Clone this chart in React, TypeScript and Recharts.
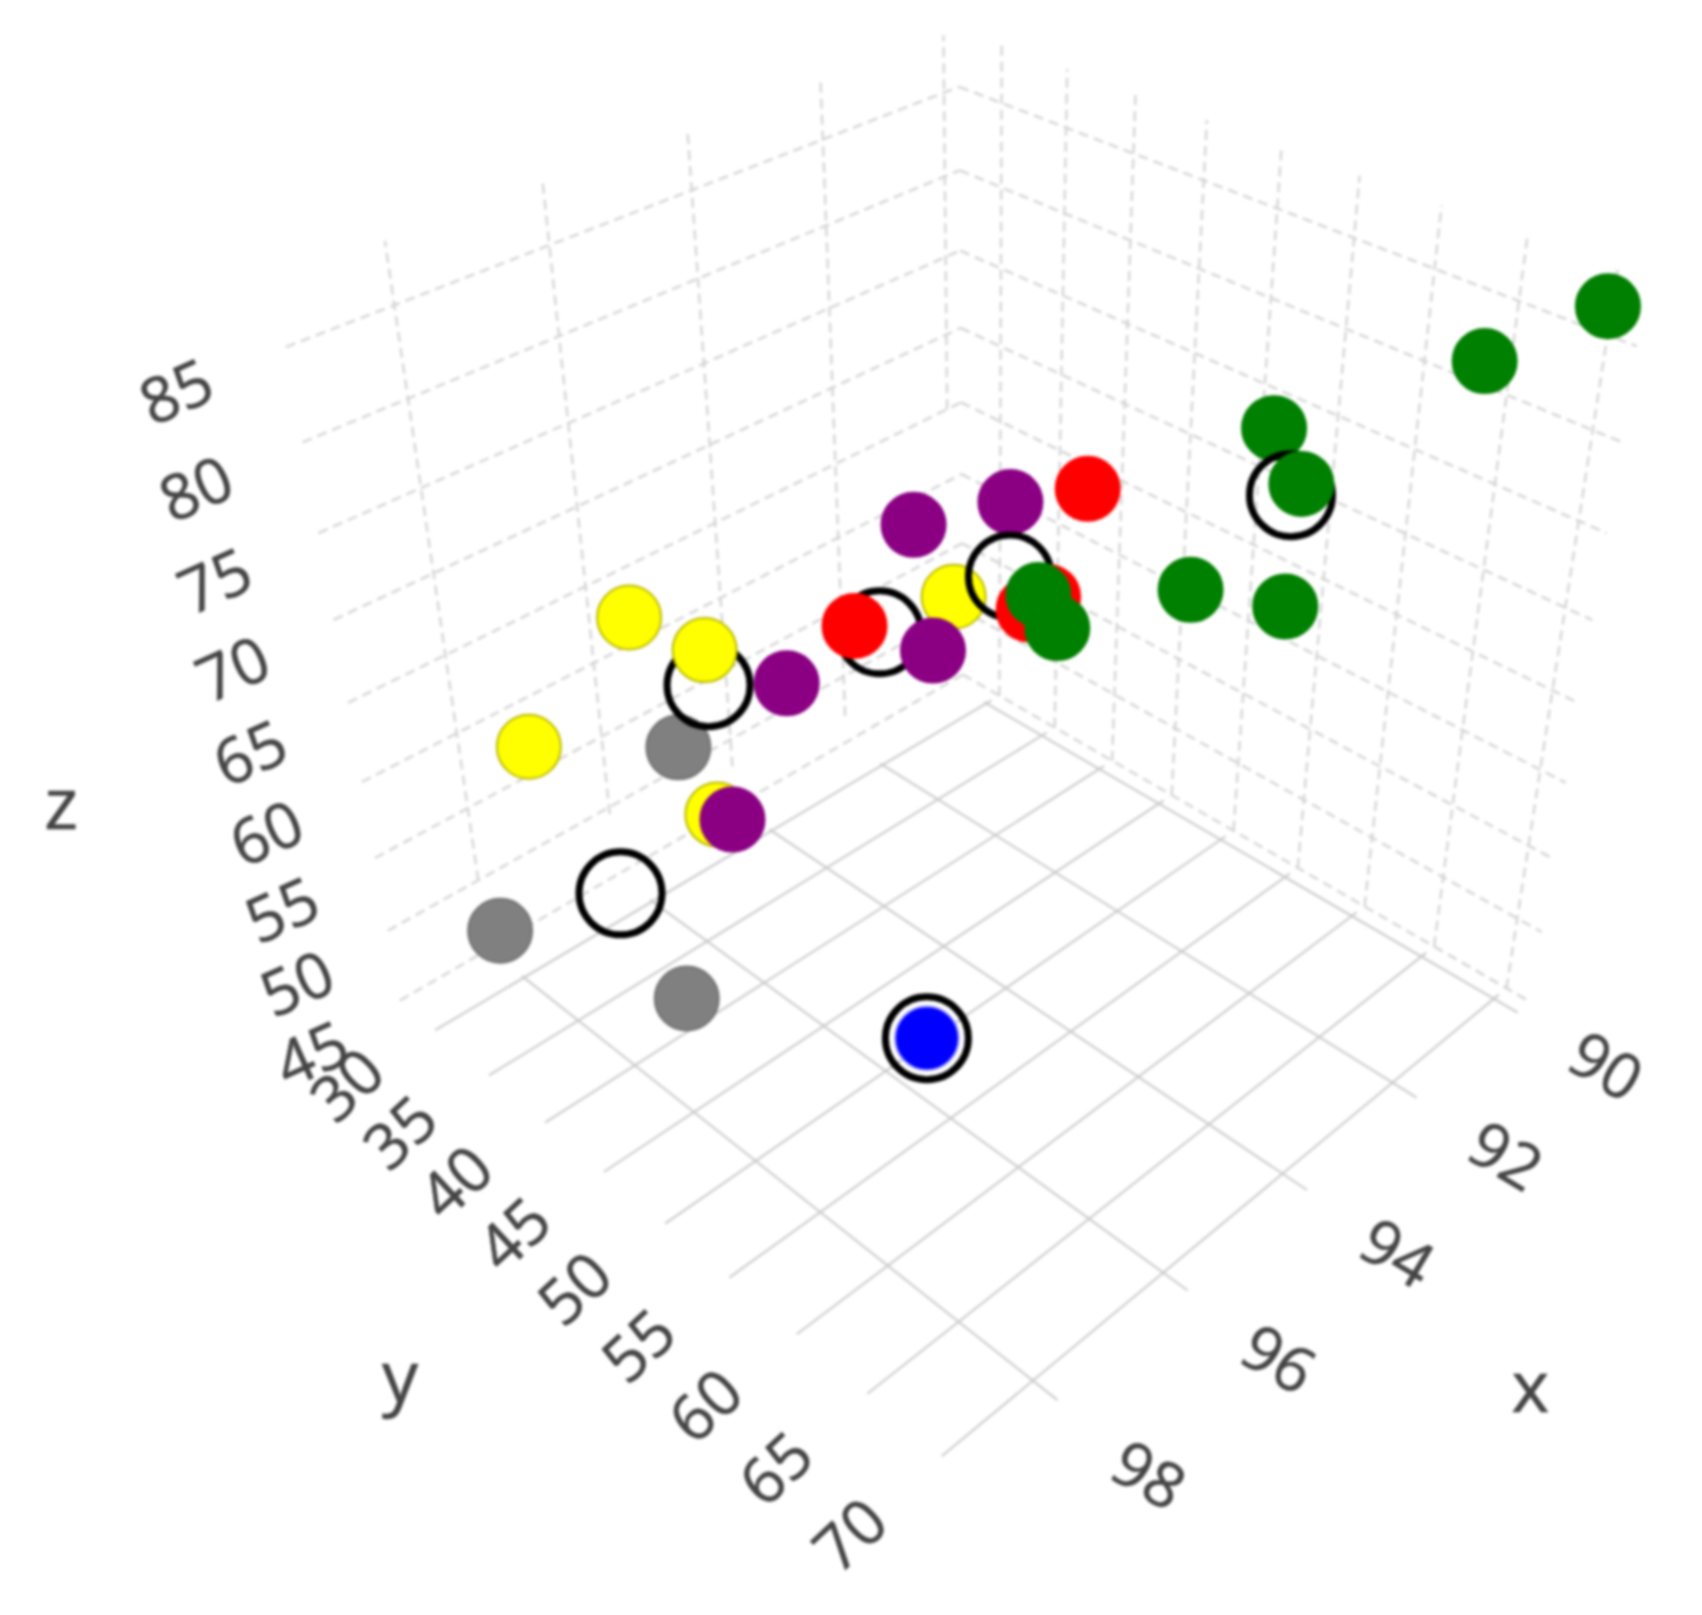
import React from 'react';
import { ScatterChart, Scatter, XAxis, YAxis } from 'recharts';

const WIDTH = 1702;
const HEIGHT = 1615;

// axis ticks
const xTicks = [90, 92, 94, 96, 98];
const yTicks = [30, 35, 40, 45, 50, 55, 60, 65, 70];
const zTicks = [45, 50, 55, 60, 65, 70, 75, 80, 85];

// scene box
const xMin = 89.74, xMax = 99.3;
const yMin = 26.6, yMax = 71.6;
const zMin = 45, zMax = 88.3;

// series values
const grayX = [97, 99, 97];
const grayY = [40.1, 35.9, 38.9];
const grayZ = [63.6, 54.7, 46.1];

const greenBackX = [91];
const greenBackY = [55.3];
const greenBackZ = [76.7];

const purpleBackX = [93];
const purpleBackY = [45.6];
const purpleBackZ = [72.3];

const yellowX = [97, 93, 97, 95];
const yellowY = [36.9, 41.3, 26.2, 30.8];
const yellowZ = [69.9, 64.6, 56.5, 49.2];

const ringX = [91, 93, 95, 97, 97, 97];
const ringY = [56.7, 45.6, 45.4, 43.0, 33.6, 58.2];
const ringZ = [73.4, 67.8, 68.6, 68.8, 50.4, 55.7];

const yellowTopX = [97];
const yellowTopY = [42.9];
const yellowTopZ = [70.8];

const purpleX = [93, 93, 95, 95];
const purpleY = [38.2, 39.6, 37.8, 32.2];
const purpleZ = [67.8, 60.3, 61.8, 49.6];

const redX = [93, 95, 93, 93];
const redY = [51.0, 43.5, 47.0, 48.4];
const redZ = [75.3, 68.1, 66.4, 67.8];

const greenX = [91, 91, 91, 91, 91, 93, 93];
const greenY = [73.1, 67.2, 57.3, 50.4, 56.9, 49.1, 47.7];
const greenZ = [89.6, 84.8, 74.3, 64.9, 66.8, 66.2, 67.6];

const blueX = [97];
const blueY = [58.2];
const blueZ = [55.7];

// camera fitted to the grid crossings, works on coords centred on the box
const CAMERA = [-0.41917, 0.18556, -0.08703, 1.0077, 0.1144, 0.0963, -0.38458, 0.69068, -0.10415, -0.09011, -0.08828];

const project = (x: number, y: number, z: number) => {
  const X = (x - 94) / 5;
  const Y = (y - 50) / 20;
  const Z = (z - 65) / 20;
  const c = CAMERA;
  const w = c[8] * X + c[9] * Y + c[10] * Z + 1;
  return {
    u: (1000 * (c[0] * X + c[1] * Y + c[2] * Z + c[3])) / w,
    v: (1000 * (c[4] * X + c[5] * Y + c[6] * Z + c[7])) / w,
  };
};

const toPoints = (xs: number[], ys: number[], zs: number[]) => xs.map((x, i) => project(x, ys[i], zs[i]));

const xWallBottom = [65, 47, 48, 49.5, 50];

const wallLines = [
  ...zTicks.map(z => [project(xMax, yMin, z), project(xMin, yMin, z)]),
  ...zTicks.map(z => [project(xMin, yMin, z), project(xMin, yMax, z)]),
  ...xTicks.map((x, i) => [project(x, yMin, xWallBottom[i]), project(x, yMin, zMax)]),
  ...yTicks.map(y => [project(xMin, y, zMin), project(xMin, y, zMax)]),
];

const floorLines = [
  ...xTicks.map(x => [project(x, 29.8, zMin), project(x, yMax, zMin)]),
  ...yTicks.map(y => [project(89.9, y, zMin), project(xMax, y, zMin)]),
];

const tickLabels = [
  ...xTicks.map(x => ({ ...project(x, 77.4, zMin), text: String(x), angle: 31 })),
  ...yTicks.map(y => ({ ...project(100.55, y, zMin), text: String(y), angle: -43 })),
  ...zTicks.map(z => ({ ...project(100.55, yMin, z), text: String(z), angle: -24 })),
];

const axisTitles = [
  { ...project(94.47, 86.8, zMin), text: 'x', angle: 0 },
  { ...project(102.5, 48.4, zMin), text: 'y', angle: 0 },
  { ...project(102.65, yMin, 67.2), text: 'z', angle: 0 },
];

const Nothing = () => <g />;

const labelShape = (fontSize: number) => (props: any) => (
  <text
    x={props.cx}
    y={props.cy}
    transform={`rotate(${props.payload.angle} ${props.cx} ${props.cy})`}
    textAnchor="middle"
    dominantBaseline="central"
    fontFamily="'Open Sans', sans-serif"
    fontSize={fontSize}
    fill="#444"
    stroke="#444"
    strokeWidth={0.6}
  >
    {props.payload.text}
  </text>
);

const dot = (fill: string, stroke: string, r = 32) => (props: any) => (
  <circle cx={props.cx} cy={props.cy} r={r} fill={fill} stroke={stroke} strokeWidth={2} />
);

const ring = (props: any) => <circle cx={props.cx} cy={props.cy} r={41.5} fill="none" stroke="#000" strokeWidth={7} />;

export default function App() {
  return (
    <div style={{ position: 'absolute', left: 0, top: 0, width: WIDTH, height: HEIGHT, filter: 'blur(1.6px)' }}>
      <ScatterChart width={WIDTH} height={HEIGHT} margin={{ top: 0, right: 0, bottom: 0, left: 0 }}>
        <XAxis type="number" dataKey="u" domain={[0, WIDTH]} hide />
        <YAxis type="number" dataKey="v" domain={[0, HEIGHT]} reversed hide />

        {wallLines.map((seg, i) => (
          <Scatter
            key={`wall-${i}`}
            data={seg}
            line={{ stroke: '#d4d4d4', strokeWidth: 2.4, strokeDasharray: '10 6' }}
            shape={Nothing}
            isAnimationActive={false}
          />
        ))}
        {floorLines.map((seg, i) => (
          <Scatter
            key={`floor-${i}`}
            data={seg}
            line={{ stroke: '#c8c8c8', strokeWidth: 2 }}
            shape={Nothing}
            isAnimationActive={false}
          />
        ))}

        <Scatter data={toPoints(grayX, grayY, grayZ)} shape={dot('#808080', '#707070')} isAnimationActive={false} />
        <Scatter data={toPoints(greenBackX, greenBackY, greenBackZ)} shape={dot('#008000', '#008000')} isAnimationActive={false} />
        <Scatter data={toPoints(purpleBackX, purpleBackY, purpleBackZ)} shape={dot('#8b0083', '#8b0083')} isAnimationActive={false} />
        <Scatter data={toPoints(yellowX, yellowY, yellowZ)} shape={dot('#ffff00', '#b8b800')} isAnimationActive={false} />
        <Scatter data={toPoints(ringX, ringY, ringZ)} shape={ring} isAnimationActive={false} />
        <Scatter data={toPoints(yellowTopX, yellowTopY, yellowTopZ)} shape={dot('#ffff00', '#b8b800')} isAnimationActive={false} />
        <Scatter data={toPoints(purpleX, purpleY, purpleZ)} shape={dot('#8b0083', '#8b0083')} isAnimationActive={false} />
        <Scatter data={toPoints(redX, redY, redZ)} shape={dot('#ff0000', '#ff0000')} isAnimationActive={false} />
        <Scatter data={toPoints(greenX, greenY, greenZ)} shape={dot('#008000', '#008000')} isAnimationActive={false} />
        <Scatter data={toPoints(blueX, blueY, blueZ)} shape={dot('#0000ff', '#a8a8ff')} isAnimationActive={false} />

        <Scatter data={tickLabels} shape={labelShape(63)} isAnimationActive={false} />
        <Scatter data={axisTitles} shape={labelShape(72)} isAnimationActive={false} />
      </ScatterChart>
    </div>
  );
}
